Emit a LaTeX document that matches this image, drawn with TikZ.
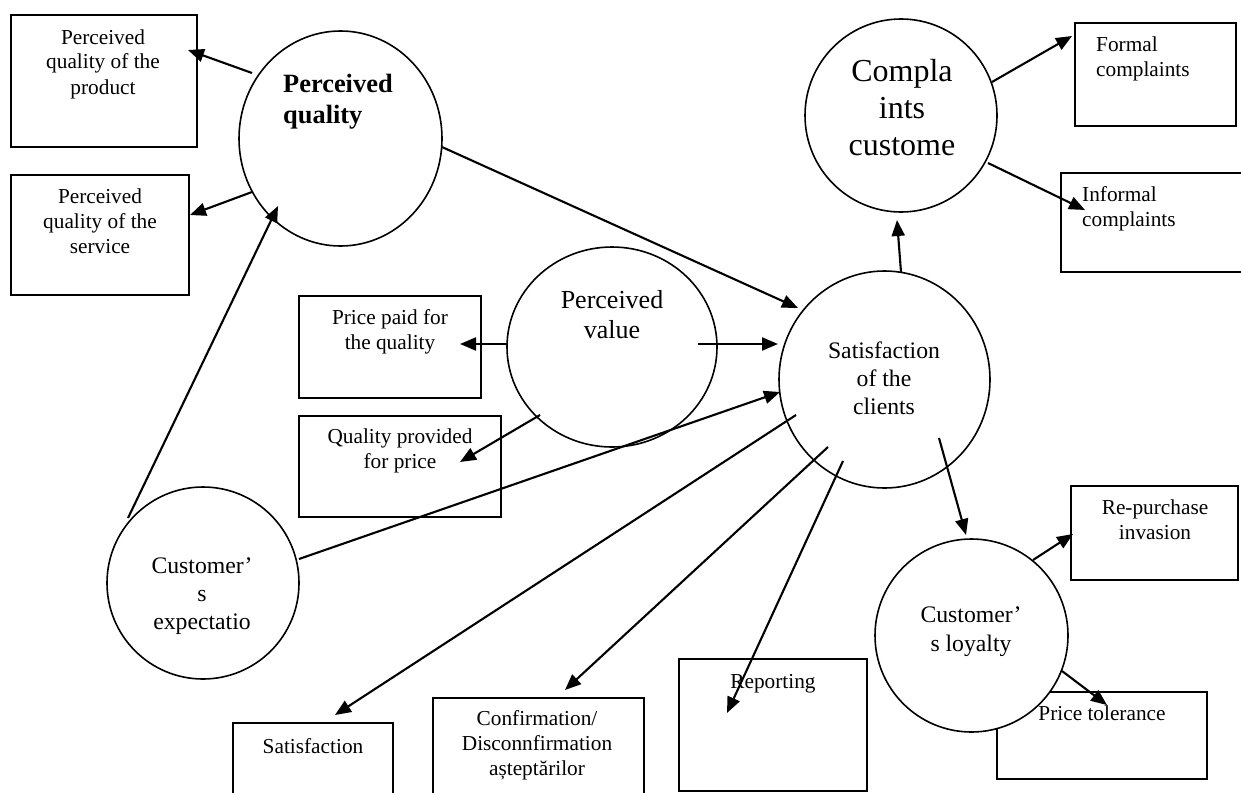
\documentclass[tikz,border=0pt]{standalone}
\usepackage{fontspec}
\setmainfont{Liberation Serif}
\usetikzlibrary{shapes.geometric,arrows.meta}
\newcommand\fsz[2]{\fontsize{#1}{#2}\selectfont}
\begin{document}
\begin{tikzpicture}[x=1pt,y=-1pt,
  box/.style={draw, line width=1.5pt, inner sep=0pt},
  circ/.style={draw, ellipse, line width=1.6pt, inner sep=0pt, fill=white},
  small/.style={font=\fsz{21.3}{25}, align=center, inner sep=0pt},
  mid/.style={font=\fsz{23.7}{28}, align=center, inner sep=0pt},
  conn/.style={line width=2.1pt, -{Triangle[length=16pt,width=13pt]}},
  plainln/.style={line width=2pt}]
\useasboundingbox (0,0) rectangle (1241,792);
\clip (0,0) rectangle (1241,792);
% boxes
\node[box, minimum width=186, minimum height=132] (bprod) at (104,81) {};
\node[box, minimum width=178, minimum height=120] (bserv) at (100,235) {};
\node[box, minimum width=182, minimum height=102] (bprice) at (390,347) {};
\node[box, minimum width=202, minimum height=101] (bqual) at (400,466.5) {};
\node[box, minimum width=160, minimum height=77] (bsatis) at (313,761.5) {};
\node[box, minimum width=211, minimum height=102] (bconf) at (538.5,749) {};
\node[box, minimum width=188, minimum height=132] (brep) at (773,725) {};
\node[box, minimum width=161, minimum height=103] (bformal) at (1155.5,74.5) {};
\node[box, minimum width=189, minimum height=99] (binformal) at (1155.5,222.5) {};
\node[box, minimum width=167, minimum height=94] (brepur) at (1154.5,533) {};
\node[box, minimum width=210, minimum height=87] (bptol) at (1102,735.5) {};
% circles
\node[circ, minimum width=203, minimum height=215] (cpq) at (340.5,138.5) {};
\node[circ, minimum width=192, minimum height=193] (ccomp) at (901,115.5) {};
\node[circ, minimum width=210, minimum height=200] (cpv) at (612,347) {};
\node[circ, minimum width=211, minimum height=217] (csat) at (884.5,379.5) {};
\node[circ, minimum width=192, minimum height=192] (cexp) at (203,583) {};
\node[circ, minimum width=193, minimum height=193] (cloy) at (971.5,635.5) {};
% texts
\node[small] (tprod) at (103,64) {\strut Perceived\\quality of the\\product\strut};
\node[small] (tserv) at (100,223.5) {\strut Perceived\\quality of the\\service\strut};
\node[small] (tprice) at (390,332) {\strut Price paid for\\the quality\strut};
\node[small] (tqual) at (400,451) {\strut Quality provided\\for price\strut};
\node[small] (tsatis) at (313,748) {\strut Satisfaction\strut};
\node[small] (tconf) at (537,745.5) {\strut Confirmation/\\Disconnfirmation\\așteptărilor\strut};
\node[small] (trep) at (773,683) {\strut Reporting\strut};
\node[small, align=left, anchor=west] (tformal) at (1096,59.5) {\strut Formal\\complaints\strut};
\node[small, align=left, anchor=west] (tinformal) at (1082,208.5) {\strut Informal\\complaints\strut};
\node[small] (trepur) at (1155,521.5) {\strut Re-purchase\\invasion\strut};
\node[small] (tptol) at (1102,715) {\strut Price tolerance\strut};
\node[font=\fsz{26.4}{31}\bfseries, align=left, anchor=west, inner sep=0pt] (tpq) at (283,101.5) {\strut Perceived\\quality\strut};
\node[font=\fsz{32}{37}, align=center, inner sep=0pt] (tcomp) at (902,111) {\strut Compla\\ints\\custome\strut};
\node[font=\fsz{26}{30}, align=center, inner sep=0pt] (tpv) at (612,317) {\strut Perceived\\value\strut};
\node[mid] (tsat) at (884,381) {\strut Satisfaction\\of the\\clients\strut};
\node[mid] (texp) at (202,596) {\strut Customer’\\s\\expectatio\strut};
\node[font=\fsz{23.7}{29}, align=center, inner sep=0pt] (tloy) at (971,631.5) {\strut Customer’\\s loyalty\strut};
% connector end points
\coordinate (a1s) at (252,73);   \coordinate (a1e) at (188,50);
\coordinate (a2s) at (252,192);  \coordinate (a2e) at (190,215);
\coordinate (a3s) at (128,518);  \coordinate (a3e) at (278,206);
\coordinate (a4s) at (442,147);  \coordinate (a4e) at (798,308);
\coordinate (a5s) at (508,344);  \coordinate (a5e) at (460,344);
\coordinate (a6s) at (698,344);  \coordinate (a6e) at (778,344);
\coordinate (a7s) at (540,415);  \coordinate (a7e) at (460,462);
\coordinate (a8s) at (299,559);  \coordinate (a8e) at (780,392);
\coordinate (a9s) at (796,415);  \coordinate (a9e) at (335,715);
\coordinate (a10s) at (828,447); \coordinate (a10e) at (565,690);
\coordinate (a11s) at (843,461); \coordinate (a11e) at (727,713);
\coordinate (a12s) at (939,438); \coordinate (a12e) at (966,535);
\coordinate (a13s) at (901,272); \coordinate (a13e) at (897,220);
\coordinate (a14s) at (992,82);  \coordinate (a14e) at (1072,36);
\coordinate (a15s) at (988,163); \coordinate (a15e) at (1085,210);
\coordinate (a16s) at (1033,560); \coordinate (a16e) at (1073,534);
\coordinate (a17s) at (1062,671); \coordinate (a17e) at (1107,705);
% connectors
\draw[conn] (a1s) -- (a1e);
\draw[conn] (a2s) -- (a2e);
\draw[conn] (a3s) -- (a3e);
\draw[conn] (a4s) -- (a4e);
\draw[conn] (a5s) -- (a5e);
\draw[conn] (a6s) -- (a6e);
\draw[conn] (a7s) -- (a7e);
\draw[conn] (a8s) -- (a8e);
\draw[conn] (a9s) -- (a9e);
\draw[conn] (a10s) -- (a10e);
\draw[conn] (a11s) -- (a11e);
\draw[conn] (a12s) -- (a12e);
\draw[conn] (a13s) -- (a13e);
\draw[conn] (a14s) -- (a14e);
\draw[conn] (a15s) -- (a15e);
\draw[conn] (a16s) -- (a16e);
\draw[conn] (a17s) -- (a17e);
\end{tikzpicture}
\end{document}
